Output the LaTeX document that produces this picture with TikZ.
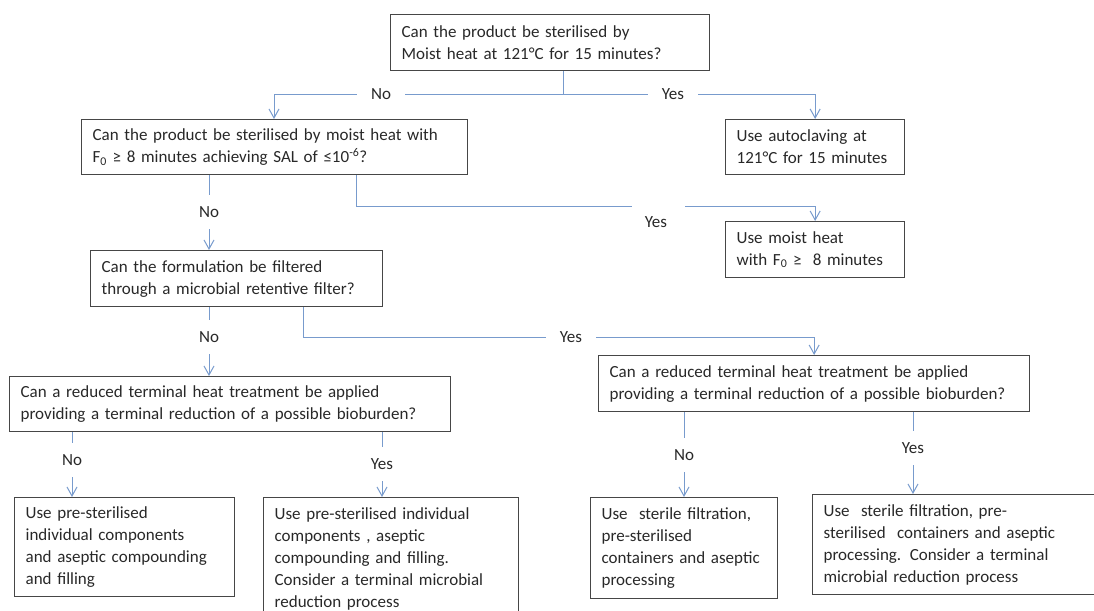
\documentclass[tikz,border=0pt]{standalone}
\usepackage{fontspec}
\setmainfont{Carlito}
\usetikzlibrary{arrows.meta}
\definecolor{flowblue}{RGB}{120,155,205}
\definecolor{boxgray}{RGB}{70,70,70}
\definecolor{txtgray}{RGB}{40,40,40}
\begin{document}
\begin{tikzpicture}[x=1pt,y=-1pt,
		box/.style={draw=boxgray, line width=1.3pt, anchor=north west, align=left, inner xsep=11pt, inner ysep=0pt, text=txtgray, font=\fontsize{17}{22}\selectfont},
		lbl/.style={inner xsep=14pt, inner ysep=11.5pt, text=txtgray, font=\fontsize{17}{22}\selectfont},
		link/.style={draw=flowblue, line width=1pt},
		arr/.style={link, -{Straight Barb[length=9pt,width=10pt]}}]
				\useasboundingbox (0,0) rectangle (1094,610);
				\node[box, text width=297pt, minimum height=56pt](q1) at (390,14){Can the product be sterilised by\\Moist heat at 121°C for 15 minutes?};
				\node[box, text width=364pt, minimum height=55pt](q2) at (81,119){Can the product be sterilised by moist heat with\\F\textsubscript{0} ≥ 8 minutes achieving SAL of ≤10\textsuperscript{-6}?};
				\node[box, text width=157pt, minimum height=55pt](auto) at (725,119){Use autoclaving at\\121°C for 15 minutes};
				\node[box, text width=270pt, minimum height=56pt](q3) at (90,250){Can the formulation be filtered\\through a microbial retentive filter?};
				\node[box, text width=157pt, minimum height=56pt](moist) at (725,221){Use moist heat\\with F\textsubscript{0} ≥\ \ 8 minutes};
				\node[box, text width=419pt, minimum height=55pt](q4l) at (9,376){Can a reduced terminal heat treatment be applied\\providing a terminal reduction of a possible bioburden?};
				\node[box, text width=409pt, minimum height=56pt](q4r) at (598,355){Can a reduced terminal heat treatment be applied\\providing a terminal reduction of a possible bioburden?};
				\node[box, text width=198pt, minimum height=99pt](l1) at (14,497){Use pre-sterilised\\individual components\\and aseptic compounding\\and filling};
				\node[box, text width=233pt, minimum height=123pt](l2) at (263,497){Use pre-sterilised individual\\components , aseptic\\compounding and filling.\\Consider a terminal microbial\\reduction process};
				\node[box, text width=165pt, minimum height=101pt](r1) at (590,497){Use\ \ sterile filtration,\\pre-sterilised\\containers and aseptic\\processing};
				\node[box, text width=266pt, minimum height=100pt](r2) at (812,494){Use\ \ sterile filtration, pre-\\sterilised\ \ containers and aseptic\\processing. Consider a terminal\\microbial reduction process};
				\coordinate(s1) at (563,94);
				\coordinate(q2in) at (274,119);
				\node[lbl](no1) at (381,94){No};
				\node[lbl](yes1) at (673,94){Yes};
				\draw[link](q1.south -| s1) to (s1) to (no1);
				\draw[arr](no1) -| (q2in);
				\draw[link](s1) to (yes1);
				\draw[arr](yes1) -| (auto.north);
				\node[lbl](no2) at (209,212){No};
				\draw[link](q2.south -| no2) to (no2);
				\draw[arr](no2) to (no2 |- q3.north);
				\coordinate(s2) at (356,206);
				\coordinate(y2a) at (632,206);
				\coordinate(y2b) at (685,206);
				\node[lbl](yes2) at (656,222){Yes};
				\draw[link](q2.south -| s2) to (s2) to (y2a);
				\draw[arr](y2b) -| (moist.north);
				\node[lbl](no3) at (209,337){No};
				\draw[link](q3.south -| no3) to (no3);
				\draw[arr](no3) to (no3 |- q4l.north);
				\coordinate(s3) at (303,337);
				\node[lbl](yes3) at (571,337){Yes};
				\draw[link](q3.south -| s3) to (s3) to (yes3);
				\draw[arr](yes3) -| (q4r.north);
				\node[lbl](no4) at (72,460){No};
				\node[lbl](yes4) at (382,464){Yes};
				\draw[link](q4l.south -| no4) to (no4);
				\draw[arr](no4) to (no4 |- l1.north);
				\draw[link](q4l.south -| yes4) to (yes4);
				\draw[arr](yes4) to (yes4 |- l2.north);
				\node[lbl](no5) at (684,455){No};
				\node[lbl](yes5) at (913,448){Yes};
				\draw[link](q4r.south -| no5) to (no5);
				\draw[arr](no5) to (no5 |- r1.north);
				\draw[link](q4r.south -| yes5) to (yes5);
				\draw[arr](yes5) to (yes5 |- r2.north);
			\end{tikzpicture}
\end{document}
